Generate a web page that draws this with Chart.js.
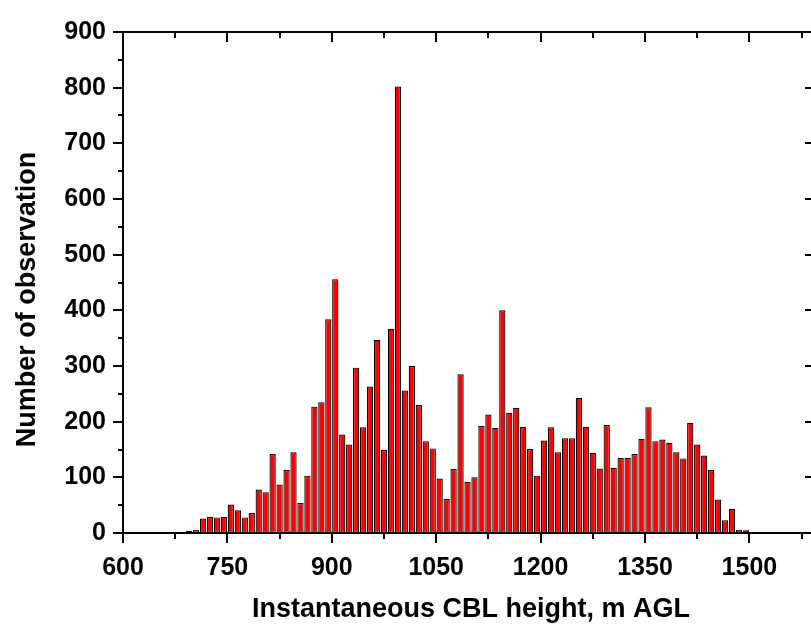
<!DOCTYPE html>
<html>
<head>
<meta charset="utf-8">
<script src="https://cdn.jsdelivr.net/npm/chart.js@4.4.1/dist/chart.umd.min.js"></script>
<style>
  html, body { margin: 0; padding: 0; background: #fff; overflow: hidden; }
  #wrap { width: 830px; height: 628px; }
</style>
</head>
<body>
<div id="wrap"><canvas id="hist" width="830" height="628"></canvas></div>
<script>
// bin centres (m AGL) and counts
const binCenters = [
  605, 615, 625, 635, 645, 655, 665, 675, 685, 695,
  705, 715, 725, 735, 745, 755, 765, 775, 785, 795,
  805, 815, 825, 835, 845, 855, 865, 875, 885, 895,
  905, 915, 925, 935, 945, 955, 965, 975, 985, 995,
  1005, 1015, 1025, 1035, 1045, 1055, 1065, 1075, 1085, 1095,
  1105, 1115, 1125, 1135, 1145, 1155, 1165, 1175, 1185, 1195,
  1205, 1215, 1225, 1235, 1245, 1255, 1265, 1275, 1285, 1295,
  1305, 1315, 1325, 1335, 1345, 1355, 1365, 1375, 1385, 1395,
  1405, 1415, 1425, 1435, 1445, 1455, 1465, 1475, 1485, 1495
];
const counts = [
  2, 0, 0, 2, 0, 0, 0, 0, 0, 4,
  6, 26, 29, 28, 29, 51, 41, 28, 36, 78,
  73, 142, 87, 113, 145, 54, 103, 227, 235, 384,
  456, 177, 159, 297, 190, 263, 347, 149, 367, 802,
  256, 300, 230, 165, 152, 98, 61, 115, 285, 92,
  100, 192, 213, 189, 400, 216, 225, 191, 151, 103,
  166, 190, 145, 170, 170, 243, 191, 144, 116, 194,
  117, 135, 135, 142, 169, 226, 165, 168, 162, 145,
  134, 198, 159, 139, 113, 60, 23, 43, 6, 5
];
const xTicks = [600, 750, 900, 1050, 1200, 1350, 1500];
const yTicks = [0, 100, 200, 300, 400, 500, 600, 700, 800, 900];
const xMinorStep = 75;
const yMinorStep = 50;

const labelFont = { family: "'Liberation Sans', Arial, sans-serif", size: 25, weight: 'bold' };
const titleFont = { family: "'Liberation Sans', Arial, sans-serif", size: 27, weight: 'bold' };

// axis frame with major/minor ticks, Origin style
const frame = {
  id: 'frame',
  afterDraw(chart) {
    const { ctx, chartArea: a, scales: { x, y } } = chart;
    ctx.save();
    ctx.strokeStyle = '#000';
    ctx.lineWidth = 2;
    ctx.lineCap = 'butt';
    ctx.beginPath();
    ctx.moveTo(a.left, a.top); ctx.lineTo(a.right, a.top);
    ctx.moveTo(a.left, a.bottom); ctx.lineTo(a.right, a.bottom);
    ctx.moveTo(a.left, a.top - 1); ctx.lineTo(a.left, a.bottom + 1);
    ctx.moveTo(a.right, a.top - 1); ctx.lineTo(a.right, a.bottom + 1);
    for (let v = x.min; v < x.max; v += xMinorStep) {
      const px = Math.round(x.getPixelForValue(v));
      const len = xTicks.includes(v) ? 10 : 6;
      ctx.moveTo(px, a.bottom); ctx.lineTo(px, a.bottom + len);
      ctx.moveTo(px, a.top); ctx.lineTo(px, a.top + len);
    }
    for (let v = y.min; v <= y.max; v += yMinorStep) {
      const py = Math.round(y.getPixelForValue(v));
      const major = yTicks.includes(v);
      const len = major ? 10 : 5;
      ctx.moveTo(a.left, py); ctx.lineTo(a.left - len, py);
      ctx.moveTo(a.right, py); ctx.lineTo(a.right - (major ? 14 : 5), py);
    }
    ctx.stroke();

    // y axis title
    ctx.fillStyle = '#000';
    ctx.font = `bold ${titleFont.size}px ${titleFont.family}`;
    ctx.textAlign = 'center';
    ctx.textBaseline = 'middle';
    ctx.translate(28, (a.top + a.bottom) / 2 + 17);
    ctx.rotate(-Math.PI / 2);
    ctx.fillText('Number of observation', 0, 0);
    ctx.restore();
  }
};

new Chart(document.getElementById('hist'), {
  type: 'bar',
  data: {
    datasets: [{
      data: binCenters.map((c, i) => ({ x: c, y: counts[i] })),
      backgroundColor: '#ff0000',
      borderColor: '#000',
      borderWidth: 1.2,
      borderSkipped: false,
      categoryPercentage: 1.0,
      barPercentage: 0.9
    }]
  },
  options: {
    responsive: false,
    animation: false,
    layout: { padding: { top: 20, right: 11, left: 0, bottom: 0 } },
    plugins: { legend: { display: false }, tooltip: { enabled: false } },
    scales: {
      x: {
        type: 'linear',
        min: 600,
        max: 1600,
        offset: false,
        grid: { display: false, drawTicks: false },
        border: { display: false },
        afterBuildTicks: s => { s.ticks = xTicks.map(v => ({ value: v })); },
        afterFit: s => { s.height = 95; },
        ticks: { font: labelFont, color: '#000', padding: 20, autoSkip: false, maxRotation: 0,
                 callback: v => String(v) },
        title: {
          display: true,
          text: 'Instantaneous CBL height, m AGL',
          font: titleFont,
          color: '#000',
          padding: { top: 0, bottom: 2 }
        }
      },
      y: {
        min: 0,
        max: 900,
        grid: { display: false, drawTicks: false },
        border: { display: false },
        afterBuildTicks: s => { s.ticks = yTicks.map(v => ({ value: v })); },
        afterFit: s => { s.width = 123; },
        ticks: { font: labelFont, color: '#000', padding: 17, autoSkip: false,
                 callback: v => String(v) }
      }
    }
  },
  plugins: [frame]
});
</script>
</body>
</html>
